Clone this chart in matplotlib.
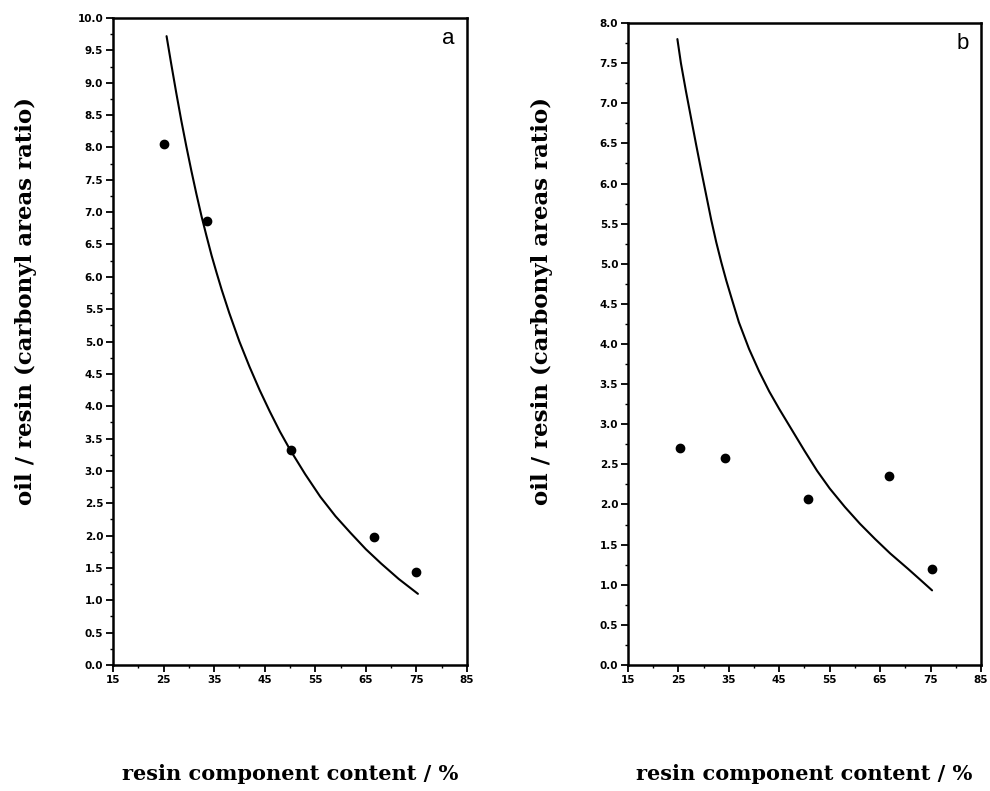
import matplotlib
matplotlib.use('Agg')
import matplotlib.pyplot as plt
from matplotlib.ticker import MultipleLocator, FixedLocator, FormatStrFormatter

# ── DATA ─────────────────────────────────────────────────────────────────────
# panel a: measured points
a_x = [25.0, 33.6, 50.2, 66.7, 75.0]
a_y = [8.05, 6.87, 3.32, 1.98, 1.43]
# panel a: fitted curve, traced
a_cx = [25.6, 26.5, 27.5, 28.5, 29.5, 30.5, 31.5, 32.5, 33.5, 34.5, 35.5,
        36.5, 38.0, 40.0, 42.0, 44.0, 46.0, 48.0, 50.0, 53.0, 56.0, 59.0,
        62.0, 65.0, 68.0, 71.5, 75.3]
a_cy = [9.72, 9.30, 8.85, 8.42, 8.02, 7.64, 7.28, 6.94, 6.63, 6.33, 6.06,
        5.80, 5.44, 5.00, 4.61, 4.25, 3.92, 3.61, 3.33, 2.95, 2.60, 2.30,
        2.04, 1.79, 1.57, 1.33, 1.10]

# panel b: measured points
b_x = [25.3, 34.3, 50.6, 66.8, 75.3]
b_y = [2.71, 2.58, 2.07, 2.36, 1.19]
# panel b: fitted curve, traced
b_cx = [24.8, 25.5, 26.5, 27.5, 28.5, 29.5, 30.5, 31.5, 32.5, 33.5, 34.5,
        35.5, 37.0, 39.0, 41.0, 43.0, 45.0, 47.5, 50.0, 52.5, 55.0, 58.0,
        61.0, 64.0, 67.0, 70.5, 73.0, 75.3]
b_cy = [7.80, 7.50, 7.15, 6.82, 6.49, 6.17, 5.86, 5.55, 5.27, 5.02, 4.79,
        4.58, 4.27, 3.94, 3.66, 3.41, 3.19, 2.93, 2.67, 2.42, 2.20, 1.97,
        1.76, 1.57, 1.39, 1.20, 1.06, 0.93]

x_ticks = [15, 25, 35, 45, 55, 65, 75, 85]
x_label = 'resin component content / %'
y_label = 'oil / resin (carbonyl areas ratio)'

# ── FIGURE ───────────────────────────────────────────────────────────────────
fig = plt.figure(figsize=(9.9, 7.91), dpi=100)

panels = [
    # rect, points, curve, ymax, tag, ylabel x
    ([0.1141, 0.1593, 0.3576, 0.8179], (a_x, a_y), (a_cx, a_cy), 10.0, 'a', 0.026),
    ([0.6343, 0.1593, 0.3566, 0.8116], (b_x, b_y), (b_cx, b_cy), 8.0, 'b', 0.547),
]

for rect, (px, py), (cx, cy), ymax, tag, ylx in panels:
    ax = fig.add_axes(rect)
    ax.plot(cx, cy, color='black', lw=1.5, solid_capstyle='round')
    ax.plot(px, py, linestyle='none', marker='o', ms=6, color='black')

    ax.set_xlim(15, 85)
    ax.set_ylim(0, ymax)
    ax.xaxis.set_major_locator(FixedLocator(x_ticks))
    ax.xaxis.set_minor_locator(FixedLocator([t + 5 for t in x_ticks[:-1]]))
    ax.yaxis.set_major_locator(MultipleLocator(0.5))
    ax.yaxis.set_minor_locator(MultipleLocator(0.25))
    ax.yaxis.set_major_formatter(FormatStrFormatter('%.1f'))
    ax.xaxis.set_major_formatter(FormatStrFormatter('%d'))

    for s in ax.spines.values():
        s.set_linewidth(1.8)
    ax.tick_params(which='major', direction='out', length=5, width=1.3,
                   labelsize=7.5, pad=2)
    ax.tick_params(which='minor', direction='out', length=2.5, width=1.0)
    for lab in ax.get_xticklabels() + ax.get_yticklabels():
        lab.set_fontweight('bold')
        lab.set_family('DejaVu Sans')

    ax.text(0.965, 0.985, tag, transform=ax.transAxes, ha='right', va='top',
            fontsize=16, family='Liberation Sans')

    fig.text(ylx, 0.62, y_label, rotation=90, ha='center', va='center',
             fontsize=16.5, fontweight='bold', family='DejaVu Serif')
    fig.text(rect[0] + rect[2] / 2, 0.022, x_label, ha='center', va='center',
             fontsize=15, fontweight='bold', family='DejaVu Serif')

fig.savefig('out.png', dpi=100)
